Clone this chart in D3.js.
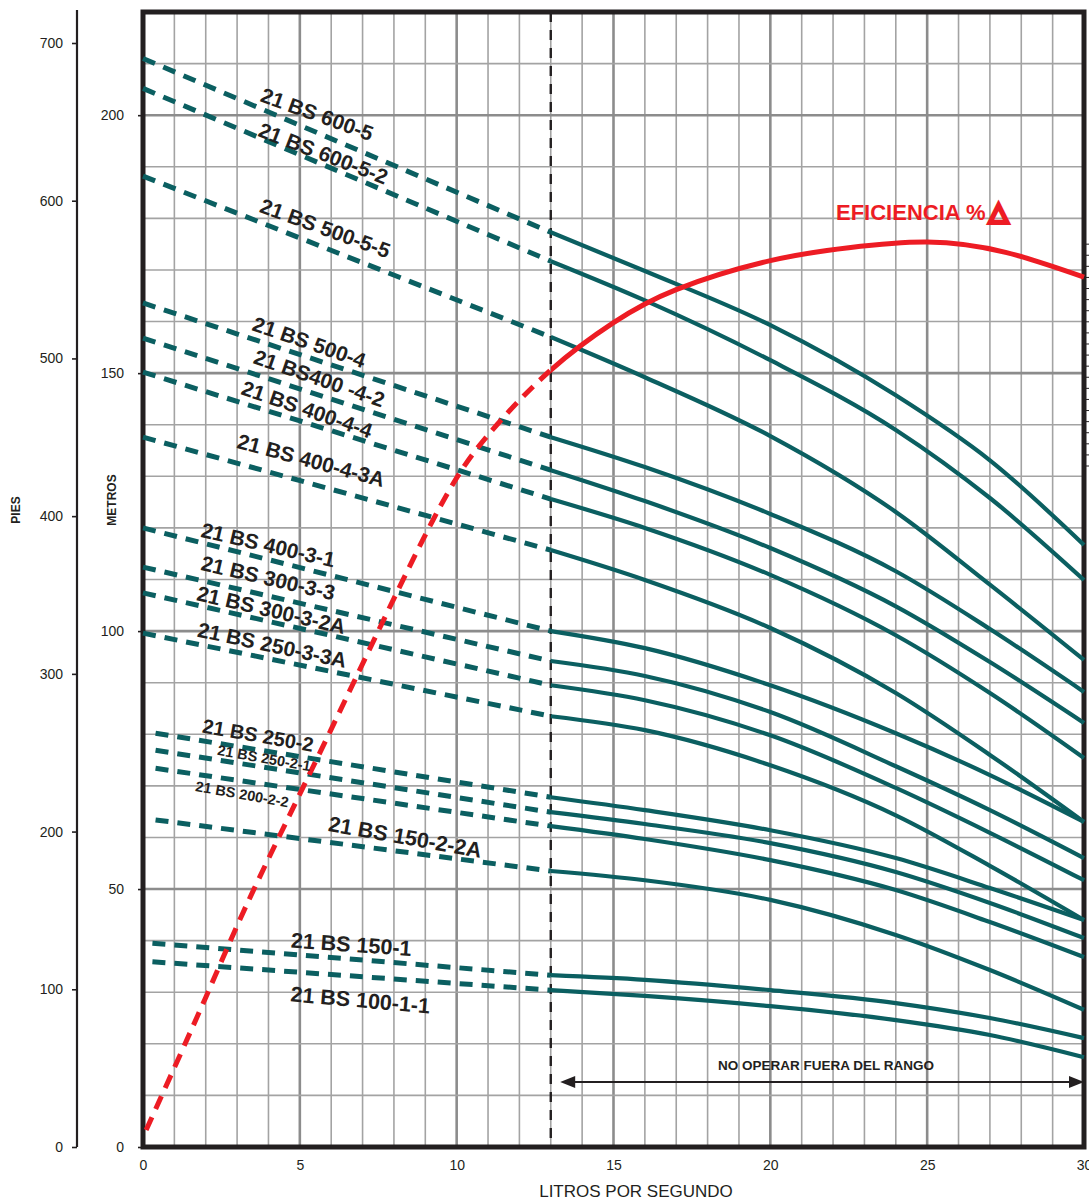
<!DOCTYPE html>
<html>
<head>
<meta charset="utf-8">
<style>
  body { margin: 0; background: #fff; }
  text { font-family: 'Liberation Sans', Arial, Helvetica, sans-serif; fill: #231f20; }
</style>
</head>
<body>
<svg id="chart" width="1089" height="1200"></svg>
<script src="https://d3js.org/d3.v7.min.js"></script>
<script>
// pump models, top to bottom
const models = [
  '21 BS 600-5', '21 BS 600-5-2', '21 BS 500-5-5', '21 BS 500-4', '21 BS400 -4-2',
  '21 BS 400-4-4', '21 BS 400-4-3A', '21 BS 400-3-1', '21 BS 300-3-3', '21 BS 300-3-2A',
  '21 BS 250-3-3A', '21 BS 250-2', '21 BS 250-2-1', '21 BS 200-2-2', '21 BS 150-2-2A',
  '21 BS 150-1', '21 BS 100-1-1'
]

// start of the dashed (out of range) part, metros
const shutoffQ    = [0, 0, 0, 0, 0, 0, 0, 0, 0, 0, 0, 0.4, 0.4, 0.4, 0.4, 0.3, 0.3]
const shutoffHead = [211.0, 205.2, 188.2, 163.6, 156.8, 150.2, 137.6, 120.0, 112.4, 107.4,
                     99.6, 80.2, 76.9, 73.4, 63.4, 39.5, 35.9]

// operating range, litros por segundo -> metros
const curveQ = [13, 16, 20, 24, 27, 30]
const curveHead = [
  [177.3, 169.8, 159.3, 145.7, 133.1, 116.7],
  [171.7, 164.1, 152.5, 139.0, 125.8, 109.9],
  [157.0, 149.2, 137.8, 123.1, 109.0, 94.4],
  [137.6, 131.8, 122.7, 111.6, 100.4, 88.2],
  [131.2, 125.2, 116.1, 104.8, 94.0, 82.2],
  [125.6, 120.0, 110.9, 99.2, 88.0, 75.4],
  [115.7, 109.9, 100.6, 88.0, 76.0, 63.0],
  [100.0, 96.7, 89.5, 80.2, 72.1, 63.0],
  [94.2, 91.3, 84.3, 73.8, 65.3, 56.0],
  [89.5, 86.6, 79.8, 69.6, 60.9, 51.7],
  [83.5, 80.8, 74.0, 64.3, 54.5, 44.0],
  [67.8, 65.3, 61.4, 56.0, 50.2, 44.0],
  [64.9, 62.6, 58.9, 53.3, 47.3, 40.5],
  [62.2, 59.7, 55.6, 49.8, 43.6, 36.8],
  [53.5, 51.7, 47.9, 41.1, 34.3, 26.6],
  [33.3, 32.4, 30.4, 27.9, 25.0, 21.1],
  [30.4, 29.3, 27.3, 24.6, 21.7, 17.4]
]

// efficiency curve drawn on the metros scale
const effQ    = [0.1, 2, 3.5, 6.2, 9.2, 11, 13, 15, 17, 20, 22.5, 25, 27.5, 30]
const effHead = [3.3, 29.0, 49.5, 83.5, 121.0, 138.0, 150.6, 159.8, 166.2, 171.8, 174.3, 175.4, 173.4, 168.6]

const xTicks = [0, 5, 10, 15, 20, 25, 30]
const metrosTicks = [0, 50, 100, 150, 200]
const piesTicks = [0, 100, 200, 300, 400, 500, 600, 700]
const limitQ = 13

// label anchors [q, metros, angle, font size]
const labelLayout = [
  [5.55, 200.2, 20, 21], [5.75, 192.6, 21, 21], [5.81, 178.1, 20, 21], [5.30, 156.0, 19, 21],
  [5.62, 149.0, 19, 21], [5.23, 143.0, 19, 21], [5.36, 133.1, 15, 21], [3.99, 116.7, 13, 21],
  [3.99, 110.3, 13, 21], [4.09, 104.1, 13, 21], [4.12, 97.3, 12, 21], [3.67, 79.8, 10, 20],
  [3.86, 75.4, 10, 14.5], [3.16, 68.4, 10, 14.5], [8.36, 60.1, 10, 21.5], [6.64, 39.3, 4, 21.5],
  [6.93, 28.5, 5, 21.5]
]

const teal = '#0b5f61', red = '#ed1c24', ink = '#231f20'

const svg = d3.select('#chart')
const x = d3.scaleLinear().domain([0, 30]).range([143, 1084])
const y = d3.scaleLinear().domain([0, 220]).range([1147, 12])
const yFt = d3.scaleLinear().domain([0, 700]).range([1147, 43])

// grid
const grid = svg.append('g')
grid.selectAll('line.v').data(d3.range(1, 30)).enter().append('line')
  .attr('x1', d => x(d)).attr('x2', d => x(d)).attr('y1', y(220)).attr('y2', y(0))
  .attr('stroke', d => d % 5 ? '#a3a3a3' : '#8c8c8c')
  .attr('stroke-width', d => d % 5 ? 1.6 : 2.6)
grid.selectAll('line.h').data(d3.range(10, 220, 10)).enter().append('line')
  .attr('y1', d => y(d)).attr('y2', d => y(d)).attr('x1', x(0)).attr('x2', x(30))
  .attr('stroke', d => d % 50 ? '#a3a3a3' : '#8c8c8c')
  .attr('stroke-width', d => d % 50 ? 1.6 : 2.6)

// small ticks at right edge (efficiency scale, cut off)
svg.append('g').selectAll('line').data(d3.range(132, 176, 2.15)).enter().append('line')
  .attr('x1', x(30)).attr('x2', x(30) + 8).attr('y1', d => y(d)).attr('y2', d => y(d))
  .attr('stroke', ink).attr('stroke-width', 1)

// limit line
svg.append('line')
  .attr('x1', x(limitQ)).attr('x2', x(limitQ)).attr('y1', y(220)).attr('y2', y(0))
  .attr('stroke', ink).attr('stroke-width', 2.4).attr('stroke-dasharray', '10,8')

// frame
svg.append('rect')
  .attr('x', x(0)).attr('y', y(220)).attr('width', x(30) - x(0)).attr('height', y(0) - y(220))
  .attr('fill', 'none').attr('stroke', ink).attr('stroke-width', 5)

// axes on the left
const metrosAxis = svg.append('g').attr('transform', 'translate(' + x(0) + ',0)')
  .call(d3.axisLeft(y).tickValues(metrosTicks).tickSize(5).tickPadding(14))
metrosAxis.select('.domain').remove()
const piesAxis = svg.append('g').attr('transform', 'translate(77,0)')
  .call(d3.axisLeft(yFt).tickValues(piesTicks).tickSize(5).tickPadding(9))
piesAxis.select('.domain').remove()
svg.append('line').attr('x1', 77).attr('x2', 77).attr('y1', 10).attr('y2', y(0))
  .attr('stroke', ink).attr('stroke-width', 2.2)
const xAxis = svg.append('g').attr('transform', 'translate(0,' + y(0) + ')')
  .call(d3.axisBottom(x).tickValues(xTicks).tickSize(0).tickPadding(13))
xAxis.select('.domain').remove()
svg.selectAll('.tick line').attr('stroke', ink).attr('stroke-width', 1.6)
svg.selectAll('.tick text').style('font-size', '14px').attr('fill', ink)

svg.append('text').attr('x', 636).attr('y', 1197).attr('text-anchor', 'middle')
  .style('font-size', '17px').text('LITROS POR SEGUNDO')
svg.append('text').attr('transform', 'translate(20,510) rotate(-90)').attr('text-anchor', 'middle')
  .style('font-size', '12px').style('font-weight', 'bold').text('PIES')
svg.append('text').attr('transform', 'translate(116,500) rotate(-90)').attr('text-anchor', 'middle')
  .style('font-size', '12px').style('font-weight', 'bold').text('METROS')

// pump curves
const line = d3.line().x(d => x(d[0])).y(d => y(d[1]))
const smooth = d3.line().x(d => x(d[0])).y(d => y(d[1])).curve(d3.curveMonotoneX)
const curves = svg.append('g')
models.forEach((m, i) => {
  curves.append('path')
    .attr('d', line([[shutoffQ[i], shutoffHead[i]], [curveQ[0], curveHead[i][0]]]))
    .attr('fill', 'none').attr('stroke', teal).attr('stroke-width', 5)
    .attr('stroke-dasharray', '13,9')
  curves.append('path')
    .attr('d', smooth(curveQ.map((q, j) => [q, curveHead[i][j]])))
    .attr('fill', 'none').attr('stroke', teal).attr('stroke-width', 4.2)
})

// efficiency: one smooth curve, dashed left of the limit, solid right of it
const defs = svg.append('defs')
defs.append('clipPath').attr('id', 'outRange').append('rect')
  .attr('x', 0).attr('y', 0).attr('width', x(limitQ)).attr('height', 1200)
defs.append('clipPath').attr('id', 'inRange').append('rect')
  .attr('x', x(limitQ)).attr('y', 0).attr('width', 1089 - x(limitQ)).attr('height', 1200)
const effLine = d3.line().x(d => x(d[0])).y(d => y(d[1])).curve(d3.curveNatural)
const effD = effLine(effQ.map((q, j) => [q, effHead[j]]))
svg.append('path').attr('d', effD).attr('clip-path', 'url(#outRange)')
  .attr('fill', 'none').attr('stroke', red).attr('stroke-width', 5).attr('stroke-dasharray', '14,9')
svg.append('path').attr('d', effD).attr('clip-path', 'url(#inRange)')
  .attr('fill', 'none').attr('stroke', red).attr('stroke-width', 5)
const effLabel = svg.append('text').attr('x', 836).attr('y', 220)
  .style('font-size', '22px').style('font-weight', 'bold').style('fill', red)
effLabel.append('tspan').text('EFICIENCIA %')
effLabel.append('tspan').attr('dx', 3).style('font-size', '25px').style('fill', 'none')
  .style('stroke', red).style('stroke-width', 3).text('\u25B3')

// labels
svg.append('g').selectAll('text').data(models).enter().append('text')
  .attr('transform', (d, i) => 'translate(' + x(labelLayout[i][0]) + ',' + y(labelLayout[i][1]) + ') rotate(' + labelLayout[i][2] + ')')
  .attr('text-anchor', 'middle').attr('dy', '0.35em')
  .style('font-size', (d, i) => labelLayout[i][3] + 'px').style('font-weight', 'bold')
  .text(d => d)

// operating range arrow
const arrowY = 1082
const rangeG = svg.append('g')
rangeG.append('line').attr('x1', x(13.3) + 12).attr('x2', x(30) - 12)
  .attr('y1', arrowY).attr('y2', arrowY).attr('stroke', ink).attr('stroke-width', 2.2)
rangeG.append('path')
  .attr('d', 'M' + x(13.3) + ',' + arrowY + 'l15,-6v12z')
  .attr('fill', ink)
rangeG.append('path')
  .attr('d', 'M' + x(30) + ',' + arrowY + 'l-15,-6v12z')
  .attr('fill', ink)
rangeG.append('text').attr('x', 826).attr('y', 1070).attr('text-anchor', 'middle')
  .style('font-size', '13.5px').style('font-weight', 'bold').text('NO OPERAR FUERA DEL RANGO')
</script>
</body>
</html>
